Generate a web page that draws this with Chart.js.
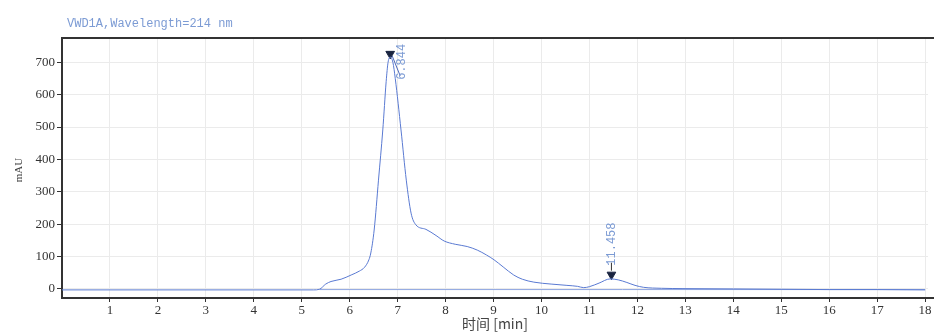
<!DOCTYPE html>
<html>
<head>
<meta charset="utf-8">
<script src="https://cdn.jsdelivr.net/npm/chart.js@4/dist/chart.umd.min.js"></script>
<style>
  html, body { margin: 0; padding: 0; background: #fff; }
  #wrap { width: 934px; height: 334px; position: relative; }
</style>
</head>
<body>
<div id="wrap"><canvas id="chrom"></canvas></div>
<script>
// signal trace (time in min, absorbance in mAU)
const times = [0, 1, 2, 3, 4, 5, 5.25, 5.37, 5.5, 5.61, 5.82, 6.03, 6.2, 6.31, 6.4, 6.44, 6.51, 6.6, 6.69, 6.76, 6.8, 6.844, 6.9, 6.95, 7.07, 7.18, 7.28, 7.38, 7.59, 7.8, 7.97, 8.2, 8.45, 8.66, 8.85, 9.01, 9.2, 9.42, 9.6, 9.84, 10.2, 10.53, 10.75, 10.88, 11.0, 11.2, 11.43, 11.6, 11.78, 11.95, 12.13, 12.5, 12.95, 14, 15, 16, 17, 18];
const mAU = [-3, -3, -3, -3, -3, -3, -3, -1, 15, 23, 30, 43, 55, 67, 90, 111, 182, 336, 491, 640, 700, 716, 700, 650, 491, 336, 234, 198, 184, 165, 148, 138, 131, 120, 105, 90, 68, 43, 30, 21, 15, 11, 8, 4, 7, 18, 31, 28, 20, 11, 5, 2, 1, 0, -1, -2, -2, -3];
// integration baseline
const baseTimes = [5.37, 18];
const baseVals = [-2, -2];
// peak markers
const peakTimes = [6.844, 11.458];
const peakMarks = [726, 44];
const peakLabels = ['6.844', '11.458'];
// axis ticks
const xTicks = [1, 2, 3, 4, 5, 6, 7, 8, 9, 10, 11, 12, 13, 14, 15, 16, 17, 18];
const yTicks = [0, 100, 200, 300, 400, 500, 600, 700];

const blue = '#5a7ad2';
const labelBlue = '#7c9bd4';

const extras = {
  id: 'extras',
  afterDraw(chart) {
    const ctx = chart.ctx;
    const a = chart.chartArea;
    const xs = chart.scales.x, ys = chart.scales.y;
    ctx.save();
    // title
    ctx.fillStyle = labelBlue;
    ctx.font = '12px "Liberation Mono", monospace';
    ctx.textBaseline = 'middle';
    ctx.fillText('VWD1A,Wavelength=214 nm', 67, 24);
    // frame lines: top and bottom run to the right edge
    ctx.strokeStyle = '#333';
    ctx.lineWidth = 2;
    ctx.beginPath();
    ctx.moveTo(a.left, a.top);
    ctx.lineTo(chart.width, a.top);
    ctx.moveTo(a.left, Math.round(a.bottom));
    ctx.lineTo(chart.width, Math.round(a.bottom));
    ctx.stroke();
    // y axis title
    ctx.save();
    ctx.fillStyle = '#444';
    ctx.font = '11px "Liberation Serif", serif';
    ctx.translate(19, (a.top + a.bottom) / 2 + 2);
    ctx.rotate(-Math.PI / 2);
    ctx.textAlign = 'center';
    ctx.textBaseline = 'middle';
    ctx.fillText('mAU', 0, 0);
    ctx.restore();
    // peak labels, reading upward
    ctx.fillStyle = labelBlue;
    ctx.font = '12px "Liberation Mono", monospace';
    ctx.strokeStyle = '#4a66b8';
    ctx.lineWidth = 1;
    // first peak: offset to the right with a leader line
    let px = xs.getPixelForValue(peakTimes[0]);
    let py = ys.getPixelForValue(peakMarks[0]);
    ctx.beginPath();
    ctx.moveTo(px + 2, py + 2);
    ctx.lineTo(px + 10, py + 22);
    ctx.stroke();
    ctx.save();
    ctx.translate(px + 12, py + 26);
    ctx.rotate(-Math.PI / 2);
    ctx.textBaseline = 'middle';
    ctx.textAlign = 'left';
    ctx.fillText(peakLabels[0], 0, 0);
    ctx.restore();
    // second peak: directly above its marker
    px = xs.getPixelForValue(peakTimes[1]);
    py = ys.getPixelForValue(peakMarks[1]);
    ctx.strokeStyle = '#333';
    ctx.beginPath();
    ctx.moveTo(px, py - 4);
    ctx.lineTo(px, py - 12);
    ctx.stroke();
    ctx.save();
    ctx.translate(px, py - 9);
    ctx.rotate(-Math.PI / 2);
    ctx.textBaseline = 'middle';
    ctx.textAlign = 'left';
    ctx.fillText(peakLabels[1], 0, 0);
    ctx.restore();
    ctx.restore();
  }
};

new Chart(document.getElementById('chrom'), {
  type: 'scatter',
  data: {
    datasets: [
      {
        data: times.map((t, i) => ({ x: t, y: mAU[i] })),
        showLine: true,
        borderColor: blue,
        borderWidth: 1,
        pointRadius: 0,
        cubicInterpolationMode: 'monotone',
      },
      {
        data: baseTimes.map((t, i) => ({ x: t, y: baseVals[i] })),
        showLine: true,
        borderColor: '#8fa6e0',
        borderWidth: 1,
        pointRadius: 0,
      },
      {
        data: peakTimes.map((t, i) => ({ x: t, y: peakMarks[i] })),
        showLine: false,
        pointStyle: 'triangle',
        rotation: 180,
        pointRadius: 5,
        backgroundColor: '#1a2440',
        borderColor: '#1a2440',
        borderWidth: 1,
      },
    ],
  },
  options: {
    responsive: true,
    maintainAspectRatio: false,
    animation: false,
    layout: { padding: { top: 38, left: 0, right: 0, bottom: 0 } },
    plugins: { legend: { display: false }, tooltip: { enabled: false } },
    scales: {
      x: {
        type: 'linear',
        min: 0,
        max: 18.06,
        afterBuildTicks: (s) => { s.ticks = xTicks.map(v => ({ value: v })); },
        afterFit: (s) => { s.height = 36; },
        grid: { color: '#ebebeb', tickColor: '#333', tickLength: 4 },
        border: { display: false },
        ticks: { color: '#333', font: { family: '"Liberation Serif", serif', size: 13 }, padding: 1, maxRotation: 0 },
        title: {
          display: true,
          text: '时间 [min]',
          color: '#444',
          font: { family: '"Noto Sans CJK SC", sans-serif', size: 14 },
          padding: { top: 0, bottom: 2 },
        },
      },
      y: {
        type: 'linear',
        min: -28,
        max: 775,
        afterBuildTicks: (s) => { s.ticks = yTicks.map(v => ({ value: v })); },
        afterFit: (s) => { s.width = 62; },
        grid: { color: '#ebebeb', tickColor: '#333', tickLength: 5 },
        border: { color: '#333', width: 2 },
        ticks: { color: '#333', font: { family: '"Liberation Serif", serif', size: 13 }, padding: 2 },
      },
    },
  },
  plugins: [extras],
});
</script>
</body>
</html>
